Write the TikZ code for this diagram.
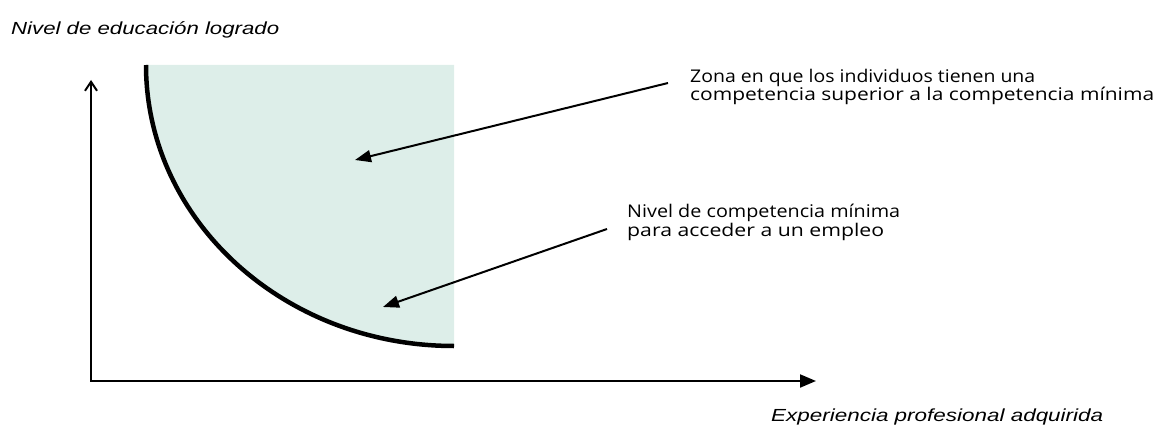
\documentclass[tikz,border=0pt]{standalone}
\usepackage{graphicx}
\usepackage{fontspec}
\setmainfont{Open Sans}
\newfontfamily\labfont{Liberation Sans}
\usetikzlibrary{arrows.meta}
\definecolor{zonefill}{RGB}{221,238,233}
\newcommand\fitline[2]{\resizebox{#1}{\height}{#2}}
\tikzset{
  axisline/.style={line width=2pt},
  pointer/.style={line width=2pt,-{Triangle[length=16pt,width=12pt]}},
  axislabel/.style={font=\labfont\itshape\fontsize{17.5}{18}\selectfont,anchor=base west,inner sep=0pt},
  note/.style={font=\fontsize{17.5}{16.8}\selectfont,anchor=base west,inner sep=0pt,align=left}
}
\begin{document}
\begin{tikzpicture}[x=1pt,y=-1pt]
\useasboundingbox (0,0) rectangle (1157,425);
% zone
\fill[zonefill] (146,65) -- (454,65) -- (454,346) .. controls (283.9,346) and (146,220.2) .. (146,65) -- cycle;
\draw[line width=4.5pt] (146,65) .. controls (146,220.2) and (283.9,346) .. (454,346);
% axes
\coordinate (origin) at (91,381);
\coordinate (ytip) at (91,80);
\coordinate (xtip) at (816,381);
\draw[axisline,-{Straight Barb[length=9pt,width=12pt,line width=2pt]}] ([yshift=1pt]origin) -- (ytip);
\draw[axisline,-{Triangle[length=16pt,width=13pt]}] ([xshift=-1pt]origin) -- (xtip);
% labels
\node[axislabel] (ylab) at (11,35) {\fitline{268pt}{Nivel de educación logrado}};
\node[axislabel] (xlab) at (771,421) {\fitline{332pt}{Experiencia profesional adquirida}};
% notes
\node[note] (n1) at (690,101) {\fitline{345pt}{Zona en que los individuos tienen una}\\\fitline{464pt}{competencia superior a la competencia mínima}};
\node[note] (n2) at (627,236) {\fitline{273pt}{Nivel de competencia mínima}\\\fitline{257pt}{para acceder a un empleo}};
\coordinate (t1) at (668,83);
\coordinate (h1) at (355,160);
\coordinate (t2) at (607,229);
\coordinate (h2) at (383,307);
\draw[pointer] (t1) -- (h1);
\draw[pointer] (t2) -- (h2);
\end{tikzpicture}
\end{document}
